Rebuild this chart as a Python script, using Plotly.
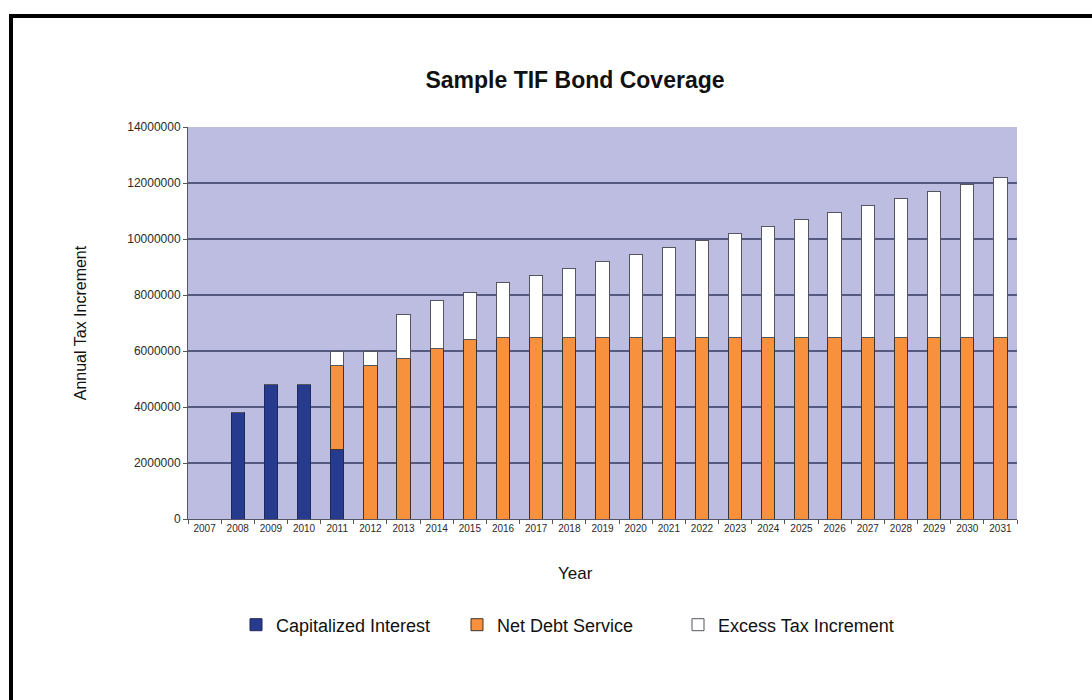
import plotly.graph_objects as go

years = [str(y) for y in range(2007, 2032)]

capitalized_interest = [0, 3800000, 4800000, 4800000, 2500000] + [0] * 20
net_debt_service = [0, 0, 0, 0, 3000000, 5500000, 5750000, 6100000, 6420000] + [6500000] * 16
excess_tax_increment = [0, 0, 0, 0, 500000, 500000, 1550000, 1700000, 1680000,
                        1950000, 2200000, 2450000, 2700000, 2950000, 3200000, 3450000,
                        3700000, 3950000, 4200000, 4450000, 4700000, 4950000, 5200000,
                        5450000, 5700000]

y_ticks = [0, 2000000, 4000000, 6000000, 8000000, 10000000, 12000000, 14000000]

NAVY = "#263a8e"
ORANGE = "#f7913d"
WHITE = "#ffffff"
OUTLINE = "#3b3430"
GRID = "#56597f"
PLOT_BG = "#bcbde1"
TEXT = "#1a1a1a"

fig = go.Figure()
fig.add_trace(go.Bar(x=years, y=capitalized_interest, name="Capitalized Interest",
                     marker=dict(color=NAVY, line=dict(color="#20285a", width=1))))
fig.add_trace(go.Bar(x=years, y=net_debt_service, name="Net Debt Service",
                     marker=dict(color=ORANGE, line=dict(color=OUTLINE, width=1))))
fig.add_trace(go.Bar(x=years, y=excess_tax_increment, name="Excess Tax Increment",
                     marker=dict(color=WHITE, line=dict(color="#55555f", width=1))))

L, R, T, B = 188, 75, 127, 181
W, H = 1092, 700
pw, ph = W - L - R, H - T - B

def px_x(p):
    return (p - L) / pw

def px_y(p):
    return (H - B - p) / ph

fig.update_layout(
    width=W, height=H,
    margin=dict(l=L, r=R, t=T, b=B, autoexpand=False),
    barmode="stack",
    bargap=0.6,
    plot_bgcolor=PLOT_BG,
    paper_bgcolor="white",
    font=dict(family="Liberation Sans, Arial, sans-serif", color=TEXT),
    title=dict(text="Sample TIF Bond Coverage", xref="paper", x=px_x(575), xanchor="center",
               yref="container", y=1 - 80 / H, yanchor="middle",
               font=dict(family="Liberation Sans, Arial, sans-serif", size=23, color="#111111",
                         weight="bold")),
    showlegend=True,
    legend=dict(orientation="h", x=px_x(236), xanchor="left", y=px_y(625), yanchor="middle",
                font=dict(size=18, color="#111111"), traceorder="normal",
                entrywidth=176, entrywidthmode="pixels", bgcolor="rgba(0,0,0,0)"),
    xaxis=dict(type="category", showgrid=False, ticks="outside", tickson="boundaries",
               ticklen=4, tickcolor="#555555", showline=True, linecolor="#555566",
               linewidth=1,
               tickfont=dict(family="Liberation Sans Narrow, Arial Narrow, Liberation Sans, Arial",
                             size=10, color="#2a2a2a")),
    yaxis=dict(range=[0, 14000000], tickvals=y_ticks, tickformat="d", showgrid=True,
               gridcolor=GRID, gridwidth=1.5, ticks="outside", ticklen=4, tickcolor="#555555",
               showline=True, linecolor="#555566", linewidth=1, zeroline=False,
               tickfont=dict(size=12, color="#2a2a2a"),
               title=dict(text="Annual Tax Increment", standoff=36,
                          font=dict(size=16, color="#111111"))),
    annotations=[dict(text="Year", xref="paper", yref="paper", x=px_x(575), y=px_y(573),
                      xanchor="center", yanchor="middle", showarrow=False,
                      font=dict(size=17, color="#111111"))],
    shapes=[dict(type="rect", xref="paper", yref="paper",
                 x0=px_x(11), x1=px_x(1110), y0=px_y(730), y1=px_y(16),
                 line=dict(color="#000000", width=4), fillcolor="rgba(0,0,0,0)",
                 layer="above")],
)

fig.write_html("out.html")
